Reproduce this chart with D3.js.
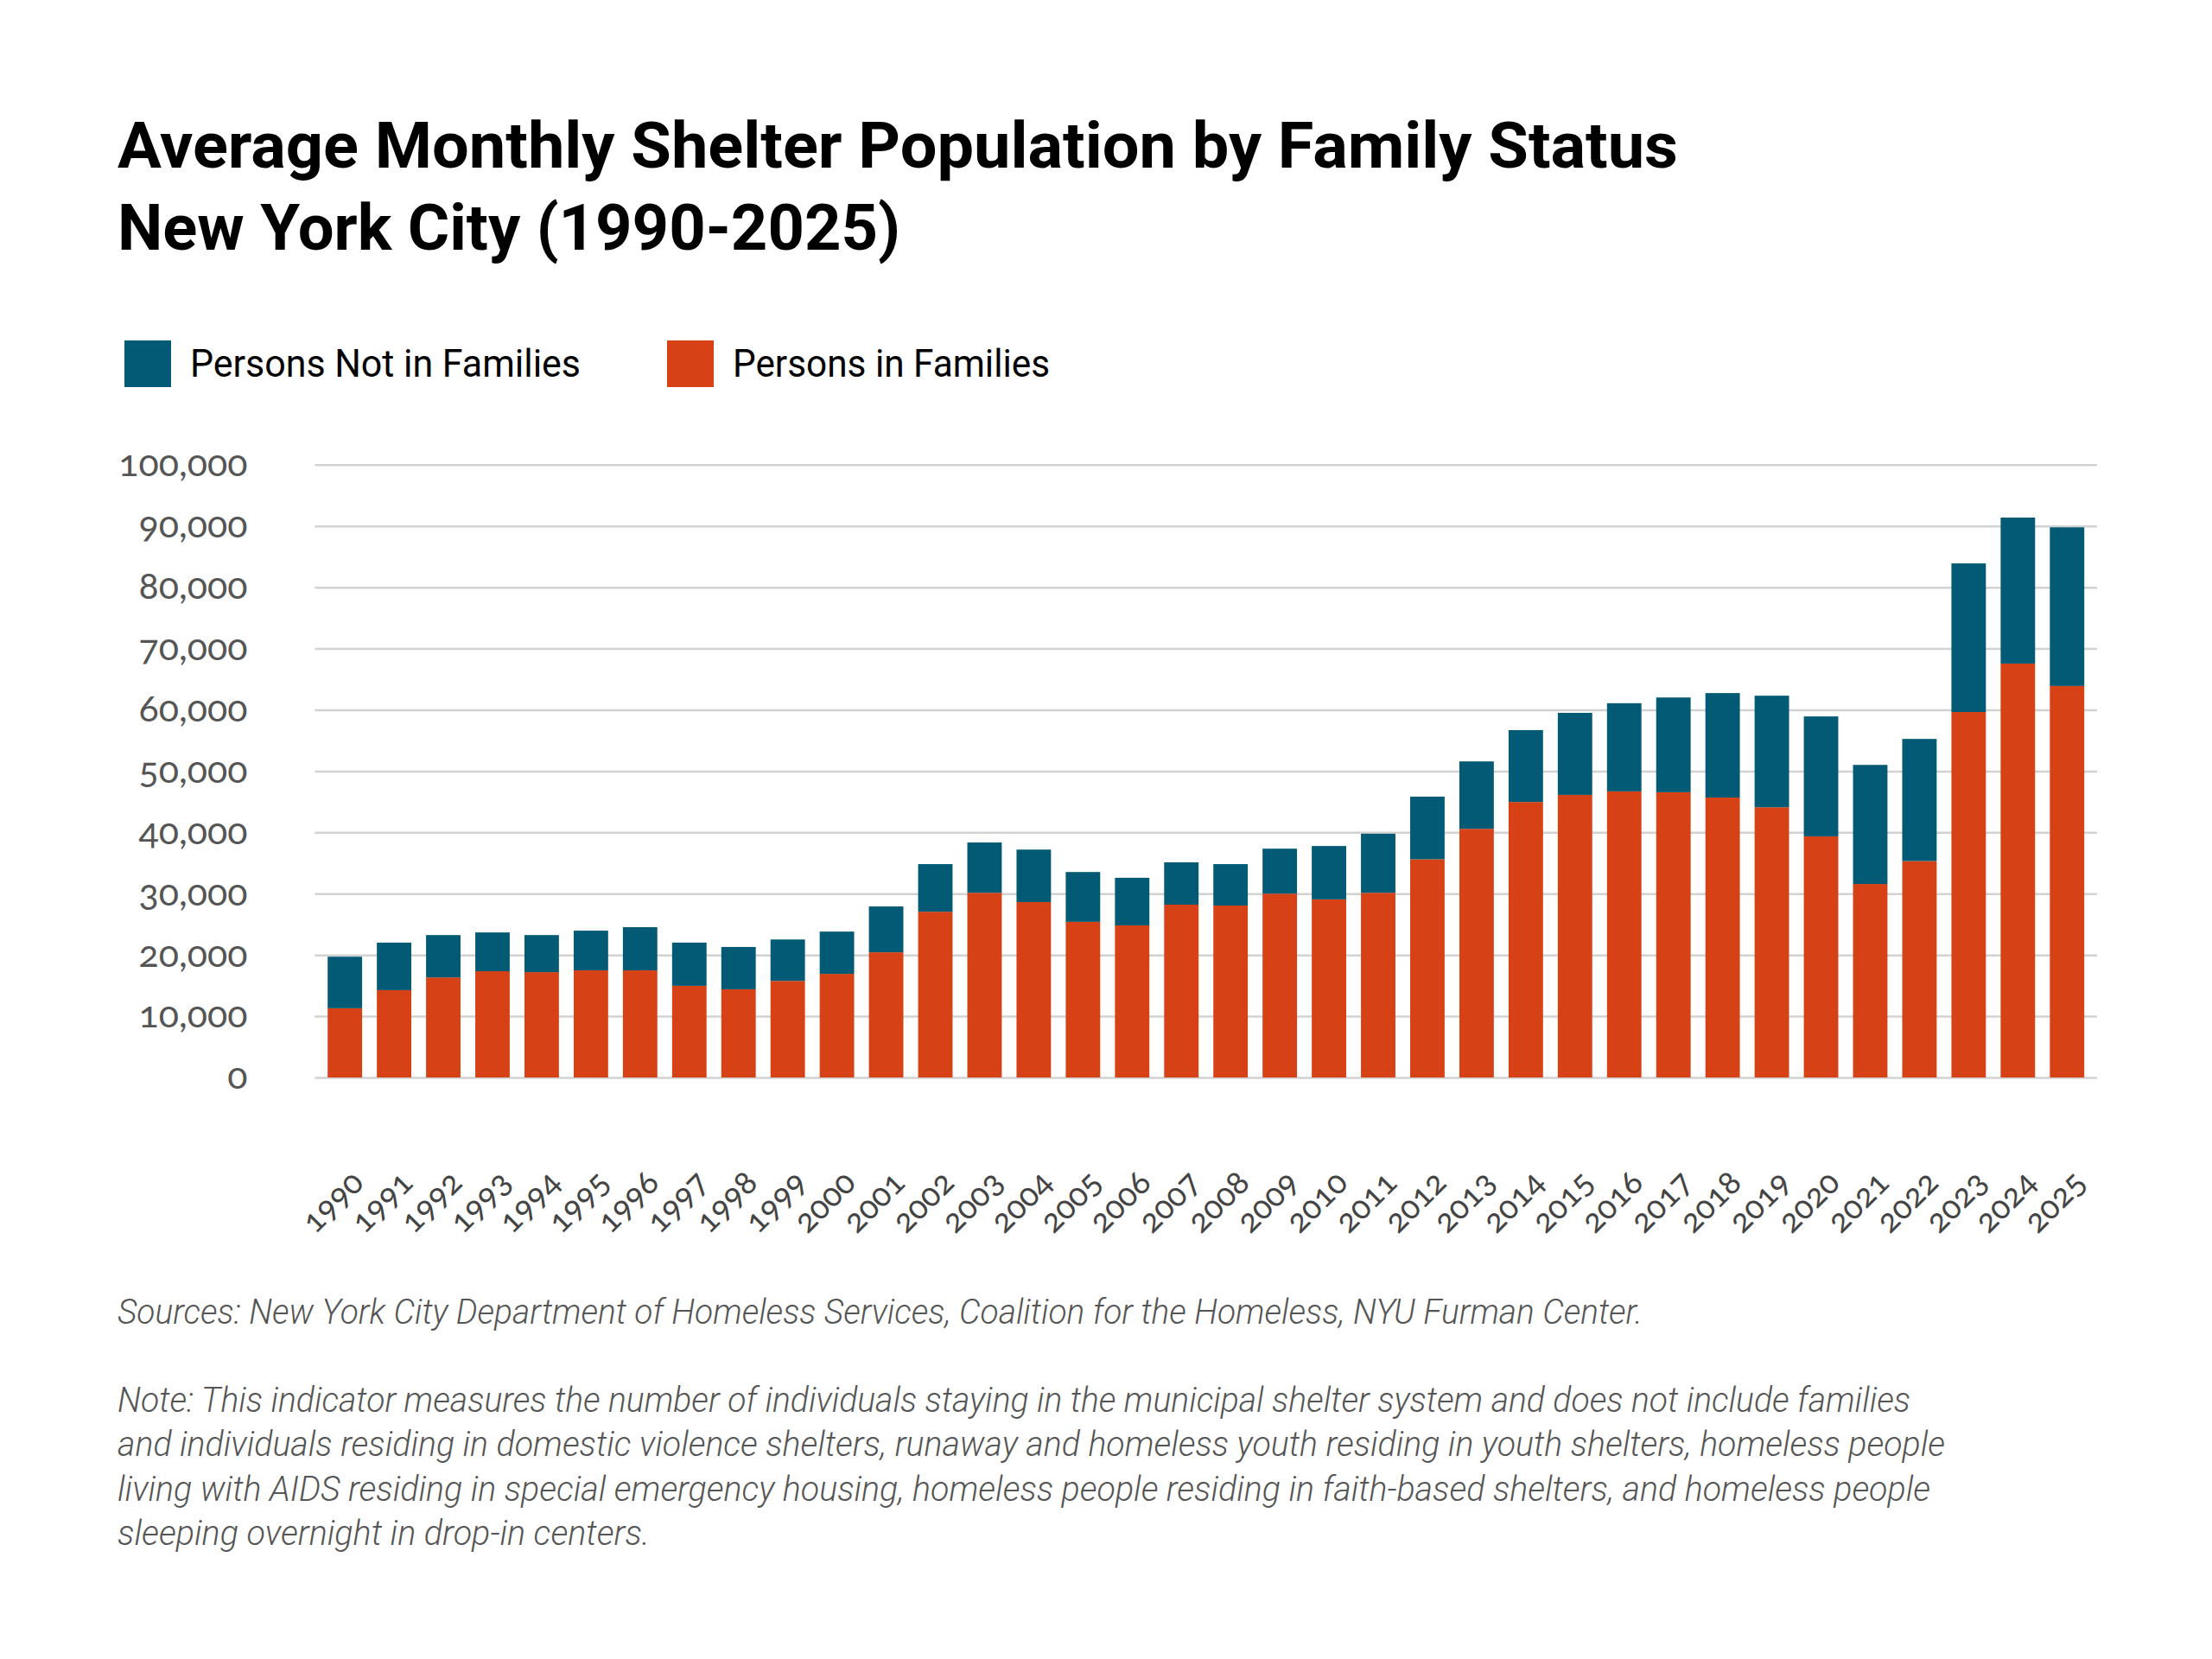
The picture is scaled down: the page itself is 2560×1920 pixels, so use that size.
<!DOCTYPE html>
<html>
<head>
<meta charset="utf-8">
<script src="https://cdn.jsdelivr.net/npm/d3@7"></script>
<style>
  html, body { margin: 0; padding: 0; background: #fff; }
  svg { display: block; }
</style>
</head>
<body>
<svg id="chart" width="2560" height="1920"></svg>
<script>
const years = ["1990","1991","1992","1993","1994","1995","1996","1997","1998","1999",
  "2000","2001","2002","2003","2004","2005","2006","2007","2008","2009",
  "2010","2011","2012","2013","2014","2015","2016","2017","2018","2019",
  "2020","2021","2022","2023","2024","2025"];

const personsInFamilies = [11300, 14250, 16330, 17340, 17190, 17480, 17480, 14960, 14390, 15760,
  16910, 20430, 27050, 30140, 28630, 25400, 24820, 28200, 28060, 30000,
  29070, 30140, 35610, 40580, 44960, 46120, 46690, 46550, 45680, 44100,
  39350, 31580, 35320, 59640, 67550, 63890];

const personsNotInFamilies = [8410, 7760, 6910, 6330, 6050, 6480, 7050, 7050, 6910, 6760,
  6900, 7480, 7770, 8210, 8560, 8130, 7770, 6910, 6760, 7340,
  8700, 9640, 10220, 11000, 11730, 13380, 14390, 15460, 17050, 18200,
  19570, 19430, 19930, 24250, 23820, 25890];

const yTicks = [0, 10000, 20000, 30000, 40000, 50000, 60000, 70000, 80000, 90000, 100000];

const seriesNames = ["Persons Not in Families", "Persons in Families"];
const seriesColors = { fam: "#d64215", notFam: "#025a74" };

const titleLines = ["Average Monthly Shelter Population by Family Status", "New York City (1990-2025)"];
const sourceText = "Sources: New York City Department of Homeless Services, Coalition for the Homeless, NYU Furman Center.";
const noteLines = [
  "Note: This indicator measures the number of individuals staying in the municipal shelter system and does not include families",
  "and individuals residing in domestic violence shelters, runaway and homeless youth residing in youth shelters, homeless people",
  "living with AIDS residing in special emergency housing, homeless people residing in faith-based shelters, and homeless people",
  "sleeping overnight in drop-in centers."
];

const svg = d3.select("#chart");
svg.append("rect").attr("width", 2560).attr("height", 1920).attr("fill", "#fff");

// Title
const titleLen = [1806, 906];
const titleY = [194, 289];
titleLines.forEach((t, i) => {
  svg.append("text")
    .attr("x", 136).attr("y", titleY[i])
    .attr("font-family", "Roboto, 'Noto Sans', sans-serif")
    .attr("font-weight", 700)
    .attr("font-size", 75)
    .attr("fill", "#000")
    .attr("textLength", titleLen[i])
    .attr("lengthAdjust", "spacingAndGlyphs")
    .text(t);
});

// Legend
const legendItems = [
  { name: seriesNames[0], color: seriesColors.notFam, x: 144, len: 452 },
  { name: seriesNames[1], color: seriesColors.fam, x: 772, len: 367 }
];
legendItems.forEach(d => {
  svg.append("rect").attr("x", d.x).attr("y", 394).attr("width", 54).attr("height", 54).attr("fill", d.color);
  svg.append("text")
    .attr("x", d.x + 76).attr("y", 436)
    .attr("font-family", "Roboto, 'Noto Sans', sans-serif")
    .attr("font-size", 44)
    .attr("fill", "#000")
    .attr("textLength", d.len)
    .attr("lengthAdjust", "spacingAndGlyphs")
    .text(d.name);
});

// Scales
const x = d3.scaleBand().domain(years).range([364.4, 2427]).paddingInner(0.3).paddingOuter(0.26);
const y = d3.scaleLinear().domain([0, 100000]).range([1247, 537.8]);

// Y axis with gridlines
const yAxis = svg.append("g")
  .attr("transform", "translate(364.4,0)")
  .call(d3.axisLeft(y).tickValues(yTicks).tickSize(-(2427 - 364.4)).tickPadding(78)
    .tickFormat(d3.format(",")));
yAxis.select(".domain").remove();
yAxis.selectAll(".tick line").attr("stroke", "#d2d2d2").attr("stroke-width", 2.5);
yAxis.selectAll(".tick text")
  .attr("font-family", "Lato, 'Open Sans', sans-serif")
  .attr("font-size", 43)
  .attr("fill", "#555")
  .style("font-variant-numeric", "oldstyle-nums")
  .attr("dy", "0.3em");

// Stacked data
const rows = years.map((yr, i) => ({ year: yr, fam: personsInFamilies[i], notFam: personsNotInFamilies[i] }));
const stack = d3.stack().keys(["fam", "notFam"]);
const layers = stack(rows);

svg.append("g").selectAll("g")
  .data(layers)
  .join("g")
  .attr("fill", d => seriesColors[d.key])
  .selectAll("rect")
  .data(d => d)
  .join("rect")
  .attr("x", d => x(d.data.year))
  .attr("width", x.bandwidth())
  .attr("y", d => y(d[1]))
  .attr("height", d => y(d[0]) - y(d[1]));

// X axis labels
const xAxis = svg.append("g")
  .attr("transform", "translate(0,1247)")
  .call(d3.axisBottom(x).tickSize(0));
xAxis.select(".domain").remove();
xAxis.selectAll(".tick text")
  .attr("x", 0).attr("y", 0).attr("dy", 0)
  .attr("transform", "translate(24,124) rotate(-45)")
  .attr("text-anchor", "end")
  .attr("font-family", "Lato, 'Open Sans', sans-serif")
  .attr("font-size", 38)
  .attr("fill", "#444")
  .style("font-variant-numeric", "oldstyle-nums");

// Sources & Note
const noteFont = "Roboto, 'Noto Sans', sans-serif";
svg.append("text")
  .attr("x", 136).attr("y", 1532)
  .attr("font-family", noteFont).attr("font-style", "italic").attr("font-weight", 300)
  .attr("font-size", 40).attr("fill", "#555")
  .attr("textLength", 1765).attr("lengthAdjust", "spacingAndGlyphs")
  .text(sourceText);

const noteY = [1634, 1685, 1737, 1788];
const noteLen = [2075, 2115, 2098, 616];
noteLines.forEach((t, i) => {
  svg.append("text")
    .attr("x", 136).attr("y", noteY[i])
    .attr("font-family", noteFont).attr("font-style", "italic").attr("font-weight", 300)
    .attr("font-size", 40).attr("fill", "#555")
    .attr("textLength", noteLen[i]).attr("lengthAdjust", "spacingAndGlyphs")
    .text(t);
});
</script>
</body>
</html>
